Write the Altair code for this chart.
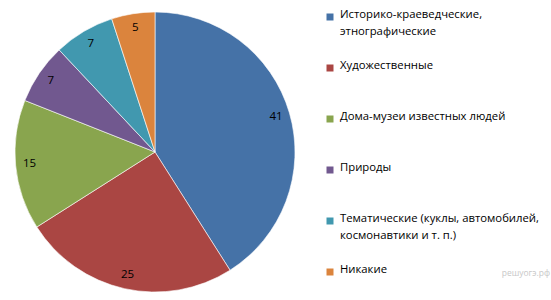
import altair as alt
import pandas as pd

categories = [
    "Историко-краеведческие,\nэтнографические",
    "Художественные",
    "Дома-музеи известных людей",
    "Природы",
    "Тематические (куклы, автомобилей,\nкосмонавтики и т. п.)",
    "Никакие",
]
values = [41, 25, 15, 7, 7, 5]
colors = ["#4572A7", "#AA4643", "#89A54E", "#71588F", "#4198AF", "#DB843D"]

df = pd.DataFrame({"cat": categories, "value": values, "idx": list(range(len(values)))})

color = alt.Color("cat:N", scale=alt.Scale(domain=categories, range=colors), legend=None)

base = alt.Chart(df)

pie = base.mark_arc(outerRadius=140, stroke="#ffffff", strokeWidth=0.6).encode(
    theta=alt.Theta("value:Q", stack=True),
    order=alt.Order("idx:Q"),
    color=color,
    x=alt.value(155), y=alt.value(152),
)

labels = base.mark_text(radius=126, font="Open Sans", fontSize=11.5, color="#000000").encode(
    theta=alt.Theta("value:Q", stack=True),
    order=alt.Order("idx:Q"),
    text=alt.Text("value:Q"),
    x=alt.value(155), y=alt.value(152),
)

ypos = alt.Y("cat:N", scale=alt.Scale(domain=categories, range=[17, 272], padding=0), axis=None)

leg_sq = base.mark_square(size=49, opacity=1, filled=True).encode(
    x=alt.value(330), y=ypos, color=color,
)

leg_txt = base.mark_text(
    align="left", baseline="top", dy=-8, lineBreak="\n", lineHeight=16.5,
    font="Open Sans", fontSize=11.3, color="#000000",
).encode(x=alt.value(340), y=ypos, text="cat:N")

wm = alt.Chart(pd.DataFrame({"t": ["решуогэ.рф"]})).mark_text(
    align="right", baseline="middle", font="Open Sans", fontSize=8.5, color="#C8C8C8",
).encode(x=alt.value(550), y=alt.value(273), text="t:N")

chart = alt.layer(pie, labels, leg_sq, leg_txt, wm).properties(
    width=551, height=300, padding=0, autosize="none",
).configure_view(stroke=None)

chart.save("out.html", embed_options={"renderer": "svg", "actions": False})
